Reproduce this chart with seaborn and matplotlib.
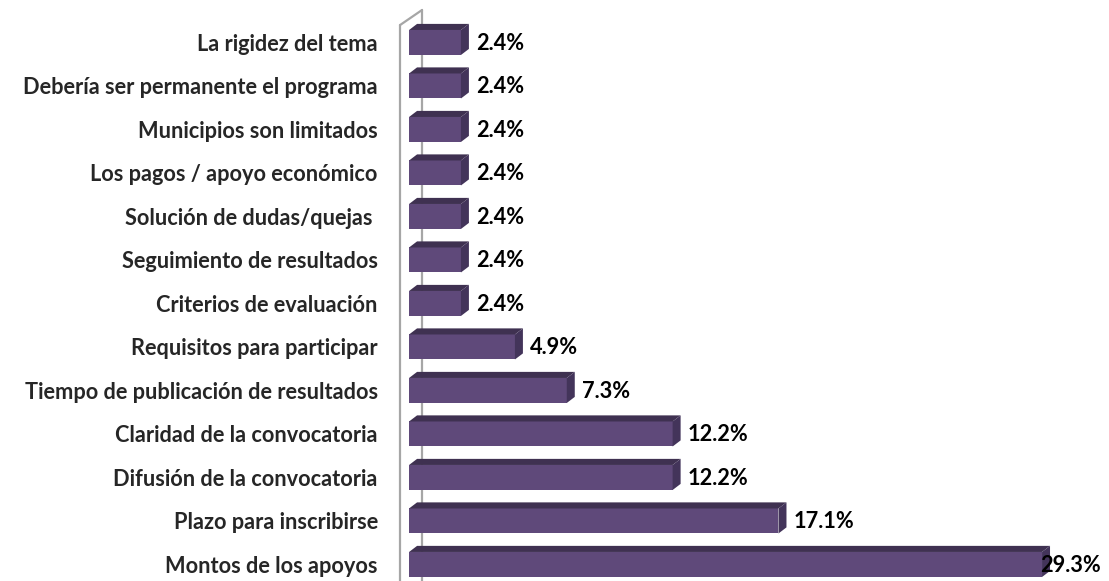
import numpy as np
import pandas as pd
import matplotlib
matplotlib.use("Agg")
import matplotlib.pyplot as plt
from matplotlib.patches import Polygon
import seaborn as sns

# -----------------------------
# DATA
# -----------------------------
categories = [
    "La rigidez del tema",
    "Debería ser permanente el programa",
    "Municipios son limitados",
    "Los pagos / apoyo económico",
    "Solución de dudas/quejas ",
    "Seguimiento de resultados",
    "Criterios de evaluación",
    "Requisitos para participar",
    "Tiempo de publicación de resultados",
    "Claridad de la convocatoria",
    "Difusión de la convocatoria",
    "Plazo para inscribirse",
    "Montos de los apoyos",
]
values = [2.4, 2.4, 2.4, 2.4, 2.4, 2.4, 2.4, 4.9, 7.3, 12.2, 12.2, 17.1, 29.3]
value_labels = [f"{v:.1f}%" for v in values]

df = pd.DataFrame({"Categoria": categories, "Porcentaje": values})

# -----------------------------
# STYLE
# -----------------------------
sns.set_style("white")
plt.rcParams["font.family"] = ["Lato", "DejaVu Sans"]

front = "#5F497A"
dark = "#3F3151"
side_c = "#43345A"
wall = "#A6A6A6"
fs = 15.7

W, H, DPI = 1109, 581, 100
fig = plt.figure(figsize=(W / DPI, H / DPI), dpi=DPI)
ax = fig.add_axes([400 / W, 0, (W - 400) / W, 571 / H])

sns.barplot(data=df, x="Porcentaje", y="Categoria", color=front,
            saturation=1, width=0.575, ax=ax, zorder=3, edgecolor="none")

ax.set_xlim(-0.42, 32.4)
ax.set_ylim(12.38, -0.747)

# pseudo-3D depth (data units)
dx, dy = 0.37, 0.14
for p in ax.patches[:len(values)]:
    x0, y0 = p.get_x(), p.get_y()
    w, h = p.get_width(), p.get_height()
    ytop, ybot = y0, y0 + h
    top = Polygon([(x0, ytop), (x0 + w, ytop), (x0 + w + dx, ytop - dy),
                   (x0 + dx, ytop - dy)], closed=True, fc=dark, ec="none", zorder=3)
    side = Polygon([(x0 + w, ytop), (x0 + w + dx, ytop - dy),
                    (x0 + w + dx, ybot - dy), (x0 + w, ybot)],
                   closed=True, fc=side_c, ec="none", zorder=3)
    ax.add_patch(top)
    ax.add_patch(side)

# value labels (pulled back inside when they would run off the figure)
renderer = fig.canvas.get_renderer()
inv = ax.transData.inverted()
for i, (v, lab) in enumerate(zip(values, value_labels)):
    t = ax.text(v + 0.7, i + 0.02, lab, va="center", ha="left", fontsize=fs,
                fontweight="bold", color="black", zorder=4)
    bb = t.get_window_extent(renderer)
    if bb.x1 > W - 8:
        shift = inv.transform((bb.x1 - (W - 8), 0))[0] - inv.transform((0, 0))[0]
        t.set_x(v + 0.7 - shift)

# wall lines
ax.plot([-0.42, -0.42], [-0.40, 12.38], color=wall, lw=1.6, zorder=1, clip_on=False)
ax.plot([-0.42, 0.6], [-0.40, -0.747], color=wall, lw=1.6, zorder=1, clip_on=False)
ax.plot([0.6, 0.6], [-0.747, 12.38], color=wall, lw=1.6, zorder=1, clip_on=False)

for s in ax.spines.values():
    s.set_visible(False)
ax.set_xticks([])
ax.set_xlabel("")
ax.set_ylabel("")
ax.tick_params(axis="y", length=0, pad=16)
for t in ax.get_yticklabels():
    t.set_fontweight("bold")
    t.set_fontsize(fs)

fig.savefig("out.png", dpi=DPI)
